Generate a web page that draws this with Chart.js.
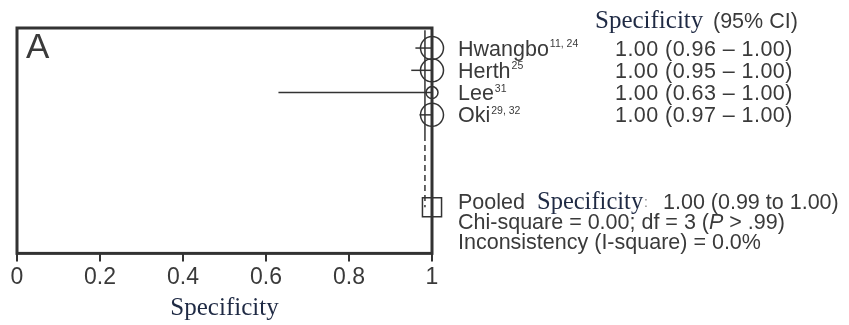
<!DOCTYPE html>
<html>
<head>
<meta charset="utf-8">
<script src="https://cdn.jsdelivr.net/npm/chart.js@4/dist/chart.umd.min.js"></script>
<style>
  html, body { margin: 0; padding: 0; background: #fff; }
  #wrap { width: 849px; height: 325px; position: relative; }
</style>
</head>
<body>
<div id="wrap"><canvas id="c"></canvas></div>
<script>
// Study data (specificity with 95% CI)
const studies = ["Hwangbo", "Herth", "Lee", "Oki"];
const studyRefs = ["11, 24", "25", "31", "29, 32"];
const specificity = [1.00, 1.00, 1.00, 1.00];
const ciLow = [0.96, 0.95, 0.63, 0.97];
const ciHigh = [1.00, 1.00, 1.00, 1.00];
const studyRows = [1, 2, 3, 4];

// Pooled estimate
const pooledSpec = 1.00;
const pooledLow = 0.99;
const pooledHigh = 1.00;
const pooledRow = 8.15;
const pooledLineX = 0.983;
const chiSquare = "0.00";
const df = 3;
const pText = ".99";
const iSquare = "0.0%";

const xTicks = [0, 0.2, 0.4, 0.6, 0.8, 1];
const xTickLabels = ["0", "0.2", "0.4", "0.6", "0.8", "1"];

const INK = "#333";
const TEXT = "#3a3a3a";
const SERIF_INK = "#1f2a44";
const SANS = "'Liberation Sans', Arial, sans-serif";
const SERIF = "'Liberation Serif', 'Times New Roman', serif";

const fmt = (v) => v.toFixed(2);

// CI lines, one small dataset per study
const ciSets = studies.map((s, i) => ({
    type: "line",
    data: [{ x: ciLow[i], y: studyRows[i] }, { x: ciHigh[i], y: studyRows[i] }],
    borderColor: INK,
    borderWidth: 1.5,
    pointRadius: 0,
    clip: false,
}));

// draws the box, the panel letter and the text table on the right
const annotations = {
    id: "annotations",
    afterDraw(chart) {
        const { ctx, chartArea: a } = chart;
        const y = chart.scales.y;
        ctx.save();
        ctx.strokeStyle = INK;
        ctx.lineWidth = 3;
        ctx.strokeRect(a.left, a.top, a.right - a.left, a.bottom - a.top);

        ctx.fillStyle = TEXT;
        ctx.textBaseline = "alphabetic";
        ctx.textAlign = "left";
        ctx.font = "35px " + SANS;
        ctx.fillText("A", a.left + 9, a.top + 30);

        // header
        ctx.fillStyle = SERIF_INK;
        ctx.font = "25px " + SERIF;
        ctx.fillText("Specificity", 595, 28);
        ctx.fillStyle = TEXT;
        ctx.font = "21.5px " + SANS;
        ctx.fillText("(95% CI)", 713, 28);

        // study rows
        studies.forEach((s, i) => {
            const base = y.getPixelForValue(studyRows[i]) + 7.5;
            ctx.font = "21.5px " + SANS;
            ctx.fillText(s, 458, base);
            const w = ctx.measureText(s).width;
            ctx.font = "10.5px " + SANS;
            ctx.fillText(studyRefs[i], 458 + w + 1, base - 8.5);
            ctx.font = "21.5px " + SANS;
            ctx.letterSpacing = "0.45px";
            ctx.fillText(fmt(specificity[i]) + " (" + fmt(ciLow[i]) + " \u2013 " + fmt(ciHigh[i]) + ")", 615, base);
            ctx.letterSpacing = "0px";
        });

        // pooled summary
        const pb = y.getPixelForValue(pooledRow) + 2;
        ctx.font = "21.5px " + SANS;
        ctx.fillText("Pooled", 458, pb);
        ctx.fillStyle = SERIF_INK;
        ctx.font = "24.5px " + SERIF;
        ctx.fillText("Specificity", 537, pb);
        ctx.fillStyle = "#888";
        ctx.font = "14px " + SANS;
        ctx.fillText(":", 644, pb - 2);
        ctx.fillStyle = TEXT;
        ctx.font = "21.5px " + SANS;
        ctx.fillText(fmt(pooledSpec) + " (" + fmt(pooledLow) + " to " + fmt(pooledHigh) + ")", 663, pb);

        let x = 458;
        const part = (t, f) => { ctx.font = f; ctx.fillText(t, x, pb + 20); x += ctx.measureText(t).width; };
        part("Chi-square = " + chiSquare + "; df = " + df + " (", "21.5px " + SANS);
        part("P", "italic 21.5px " + SANS);
        part(" > " + pText + ")", "21.5px " + SANS);

        ctx.font = "21.5px " + SANS;
        ctx.fillText("Inconsistency (I-square) = " + iSquare, 458, pb + 40);
        ctx.restore();
    },
};

new Chart(document.getElementById("c"), {
    type: "scatter",
    data: {
        datasets: [
            {
                type: "line",
                data: [{ x: pooledLineX, y: 0.2 }, { x: pooledLineX, y: 4.9 }],
                borderColor: INK,
                borderWidth: 1.5,
                pointRadius: 0,
            },
            {
                type: "line",
                data: [{ x: pooledLineX, y: 4.9 }, { x: pooledLineX, y: pooledRow }],
                borderColor: INK,
                borderWidth: 1.5,
                borderDash: [6, 4],
                pointRadius: 0,
            },
            ...ciSets,
            {
                data: studies.map((s, i) => ({ x: specificity[i], y: studyRows[i] })),
                pointStyle: "circle",
                pointRadius: [11.5, 11.5, 6, 11.5],
                borderColor: INK,
                borderWidth: 1.5,
                backgroundColor: "rgba(0,0,0,0)",
                clip: false,
            },
            {
                data: [{ x: pooledSpec, y: pooledRow }],
                pointStyle: "rect",
                pointRadius: 13.5,
                borderColor: INK,
                borderWidth: 1.5,
                backgroundColor: "rgba(0,0,0,0)",
                clip: false,
            },
        ],
    },
    options: {
        responsive: true,
        maintainAspectRatio: false,
        animation: false,
        events: [],
        layout: { padding: { left: 17, right: 417, top: 28, bottom: 2 } },
        plugins: { legend: { display: false }, tooltip: { enabled: false } },
        scales: {
            x: {
                type: "linear",
                min: 0,
                max: 1,
                afterBuildTicks: (axis) => { axis.ticks = xTicks.map((v) => ({ value: v })); },
                border: { display: false },
                grid: { drawOnChartArea: false, drawTicks: true, tickLength: 8, color: INK, lineWidth: 2 },
                ticks: {
                    padding: 3.5,
                    color: TEXT,
                    font: { family: SANS, size: 23, lineHeight: 1.07 },
                    maxRotation: 0,
                    callback: (v) => xTickLabels[xTicks.indexOf(v)] ?? "",
                },
                title: {
                    display: true,
                    text: "Specificity",
                    color: SERIF_INK,
                    font: { family: SERIF, size: 25 },
                    padding: { top: 0, bottom: 0 },
                },
            },
            y: {
                type: "linear",
                reverse: true,
                min: 0.1,
                max: 10.22,
                display: false,
            },
        },
    },
    plugins: [annotations],
});
</script>
</body>
</html>
